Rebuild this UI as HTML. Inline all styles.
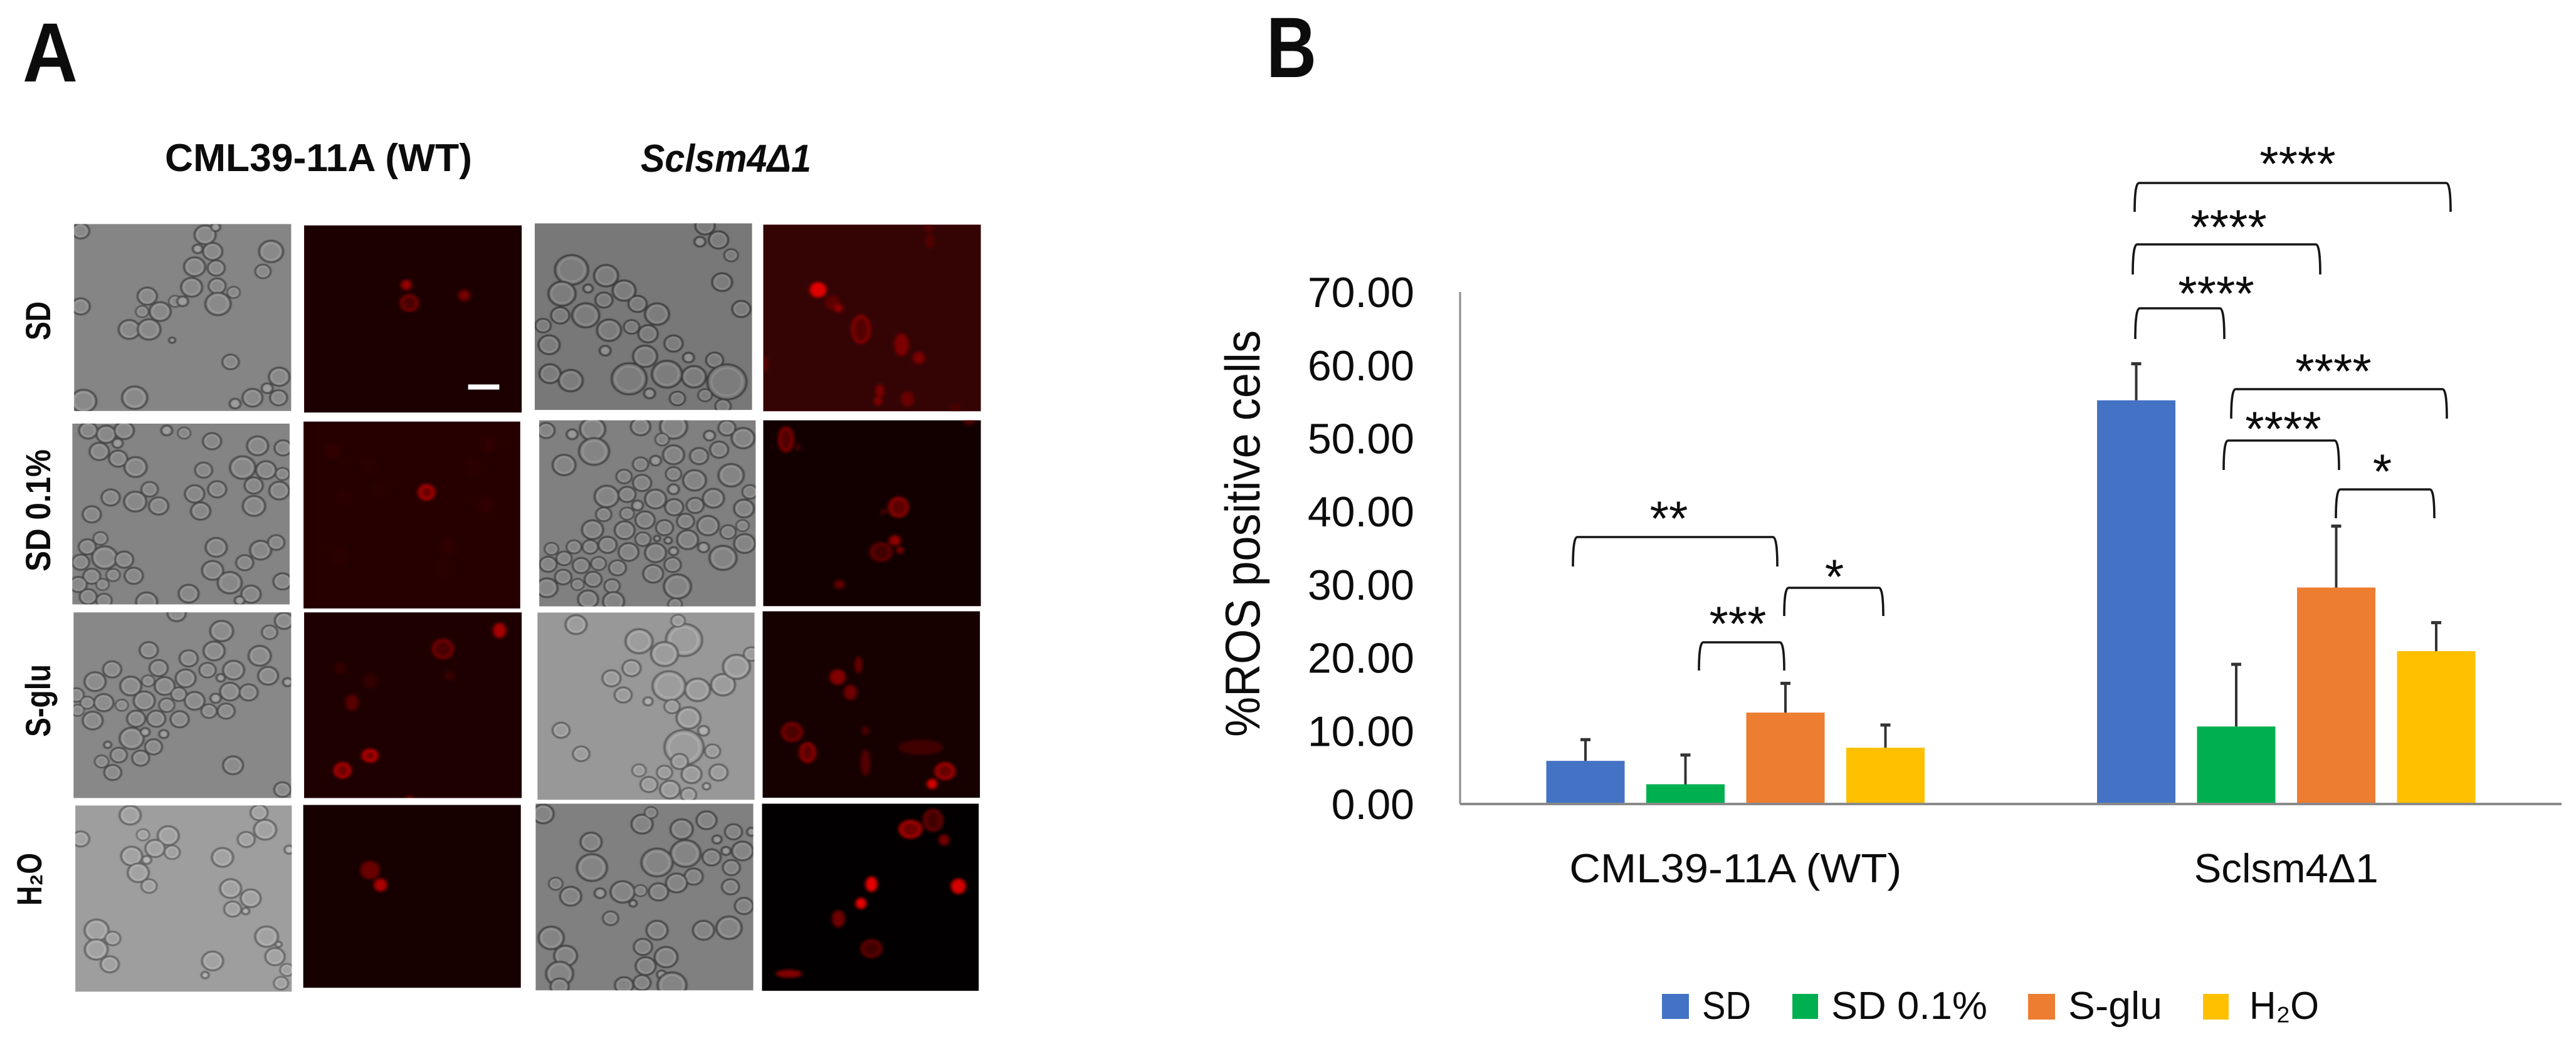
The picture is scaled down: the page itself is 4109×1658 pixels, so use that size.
<!DOCTYPE html>
<html lang="en">
<head>
<meta charset="utf-8">
<title>ROS positive cells figure</title>
<style>
html,body{margin:0;padding:0;background:#fff;}
svg{display:block;}
text{font-family:"Liberation Sans","DejaVu Sans",sans-serif;fill:#0c0c0c;}
</style>
</head>
<body>
<svg id="fig" xmlns="http://www.w3.org/2000/svg" width="4109" height="1658" viewBox="0 0 4109 1658">
  <defs>
    <filter id="soft" x="-5%" y="-5%" width="110%" height="110%"><feGaussianBlur stdDeviation="2.2"></feGaussianBlur></filter>
    <filter id="softRed" x="-5%" y="-5%" width="110%" height="110%"><feGaussianBlur stdDeviation="6"></feGaussianBlur></filter>
  </defs>
  <rect x="0" y="0" width="4109" height="1658" fill="#ffffff"></rect>

  <text x="36" y="130" font-size="134" font-weight="700" textLength="88" lengthAdjust="spacingAndGlyphs">A</text>
  <text x="2020" y="123" font-size="137" font-weight="700" textLength="80" lengthAdjust="spacingAndGlyphs">B</text>

  <text x="263" y="273" font-size="62" font-weight="700" textLength="490" lengthAdjust="spacingAndGlyphs">CML39-11A (WT)</text>
  <text x="1022" y="274" font-size="62" font-weight="700" font-style="italic" textLength="272" lengthAdjust="spacingAndGlyphs">Sclsm4Δ1</text>

  <text transform="translate(80,543) rotate(-90)" font-size="56" font-weight="700" textLength="62" lengthAdjust="spacingAndGlyphs">SD</text>
  <text transform="translate(80,912) rotate(-90)" font-size="56" font-weight="700" textLength="195" lengthAdjust="spacingAndGlyphs">SD 0.1%</text>
  <text transform="translate(80,1176) rotate(-90)" font-size="56" font-weight="700" textLength="116" lengthAdjust="spacingAndGlyphs">S-glu</text>
  <text transform="translate(66,1445) rotate(-90)" font-size="56" font-weight="700" textLength="84" lengthAdjust="spacingAndGlyphs">H₂O</text>

  <g id="micrographs"></g>

  <g id="chart">
    <text transform="translate(2009,1176) rotate(-90)" font-size="78" textLength="649" lengthAdjust="spacingAndGlyphs">%ROS positive cells</text>
    <g id="yTicks"></g>
    <g id="bars"></g>
    <g id="errs"></g>
    <line x1="2329" y1="466" x2="2329" y2="1283" stroke="#8a8a8a" stroke-width="3"></line>
    <line x1="2329" y1="1283" x2="4086" y2="1283" stroke="#8a8a8a" stroke-width="4"></line>
    <g id="xLabels"></g>

    <g fill="none" stroke="#151515" stroke-width="3.6">
      <path d="M2509 904 Q2509 857 2516 857 H2828 Q2835 857 2835 904"></path>
      <path d="M2710 1070 Q2710 1025 2717 1025 H2839 Q2846 1025 2846 1070"></path>
      <path d="M2846 983 Q2846 938 2853 938 H2997 Q3004 938 3004 983"></path>
      <path d="M3405 338 Q3405 292 3412 292 H3902 Q3909 292 3909 338"></path>
      <path d="M3402 438 Q3402 390 3409 390 H3694 Q3701 390 3701 438"></path>
      <path d="M3406 541 Q3406 492 3413 492 H3541 Q3548 492 3548 541"></path>
      <path d="M3559 668 Q3559 621 3566 621 H3896 Q3903 621 3903 668"></path>
      <path d="M3547 750 Q3547 703 3554 703 H3724 Q3731 703 3731 750"></path>
      <path d="M3726 827 Q3726 781 3733 781 H3876 Q3883 781 3883 827"></path>
    </g>
    <g font-size="78" text-anchor="middle">
      <text x="2662" y="854">**</text>
      <text x="2772" y="1022">***</text>
      <text x="2926" y="947">*</text>
      <text x="3665" y="288">****</text>
      <text x="3555" y="389">****</text>
      <text x="3535" y="495">****</text>
      <text x="3722" y="619">****</text>
      <text x="3642" y="711">****</text>
      <text x="3800" y="779">*</text>
    </g>

    <g font-size="62">
      <rect x="2651" y="1586" width="43" height="40" fill="#4472C4"></rect>
      <text x="2715" y="1626" textLength="78" lengthAdjust="spacingAndGlyphs">SD</text>
      <rect x="2859" y="1586" width="41" height="40" fill="#00B050"></rect>
      <text x="2921" y="1626" textLength="249" lengthAdjust="spacingAndGlyphs">SD 0.1%</text>
      <rect x="3235" y="1586" width="43" height="41" fill="#ED7D31"></rect>
      <text x="3299" y="1626" textLength="150" lengthAdjust="spacingAndGlyphs">S-glu</text>
      <rect x="3514" y="1586" width="41" height="41" fill="#FFC000"></rect>
      <text x="3588" y="1626" textLength="111" lengthAdjust="spacingAndGlyphs">H₂O</text>
    </g>
  </g>
</svg>

<script>
// ---------- chart data ----------
const categories = ['CML39-11A (WT)', 'Sclsm4Δ1'];
const seriesNames = ['SD', 'SD 0.1%', 'S-glu', 'H2O'];
const sdValues = [5.9, 55.2];
const sd01Values = [2.7, 10.6];
const sGluValues = [12.5, 29.6];
const h2oValues = [7.7, 20.9];
const sdErrors = [2.9, 5.0];
const sd01Errors = [4.0, 8.5];
const sGluErrors = [4.0, 8.4];
const h2oErrors = [3.1, 3.9];
const yTickLabels = ['0.00', '10.00', '20.00', '30.00', '40.00', '50.00', '60.00', '70.00'];

const seriesValues = [sdValues, sd01Values, sGluValues, h2oValues];
const seriesErrors = [sdErrors, sd01Errors, sGluErrors, h2oErrors];
const barColors = ['#4472C4', '#00B050', '#ED7D31', '#FFC000'];

const NS = 'http://www.w3.org/2000/svg';
function mk(parent, tag, attrs) {
  const el = document.createElementNS(NS, tag);
  for (const k in attrs) el.setAttribute(k, attrs[k]);
  parent.appendChild(el);
  return el;
}

// ---------- axis functions ----------
const plotLeft = 2329, plotRight = 4086, plotBase = 1283, unitPx = 11.67;
function yScale(v) { return plotBase - v * unitPx; }
function groupCenter(c) {
  const band = (plotRight - plotLeft) / categories.length;
  return plotLeft + band * (c + 0.5);
}
function barCenter(c, s) { return groupCenter(c) + (s - (seriesNames.length - 1) / 2) * 159.5; }

const yTicksG = document.getElementById('yTicks');
yTickLabels.forEach(function (label) {
  const t = mk(yTicksG, 'text', { x: 2256, y: yScale(parseFloat(label)) + 24, 'font-size': 68, 'text-anchor': 'end' });
  
  
  t.textContent = label;
});

const barsG = document.getElementById('bars');
const errsG = document.getElementById('errs');
seriesNames.forEach(function (name, s) {
  categories.forEach(function (cat, c) {
    const v = seriesValues[s][c], e = seriesErrors[s][c];
    const cx = barCenter(c, s), w = 125;
    const bar = mk(barsG, 'rect', { x: cx - w / 2, y: yScale(v), width: w, height: plotBase - yScale(v), fill: barColors[s] });
    
    
    const stem = mk(errsG, 'line', { x1: cx, x2: cx, y1: yScale(v), y2: yScale(v + e), stroke: '#333', 'stroke-width': 4 });
    
    
    const cap = mk(errsG, 'line', { x1: cx - 8, x2: cx + 8, y1: yScale(v + e), y2: yScale(v + e), stroke: '#333', 'stroke-width': 5 });
    
    
  });
});

const xLabelsG = document.getElementById('xLabels');
const xLabelWidths = [530, 294];
categories.forEach(function (cat, c) {
  const t = mk(xLabelsG, 'text', { x: groupCenter(c), y: 1408, 'font-size': 65, 'text-anchor': 'middle', textLength: xLabelWidths[c], lengthAdjust: 'spacingAndGlyphs' });
  
  
  t.textContent = cat;
});

// ---------- micrograph panels (picture texture, not chart data) ----------
const quadrants = [
 { ox: 100, oy: 340, panels: [
  { n: 'wt-sd-brightfield', r: [38,43,762,774], g: 133, c: [[60,70,28],[475,85,35],[450,140,16],[500,150,32],[440,210,35],[512,215,28],[695,150,40],[668,228,25],[430,290,35],[515,285,28],[282,325,32],[375,345,20],[400,345,18],[325,385,35],[265,385,20],[518,355,42],[60,365,30],[222,455,35],[288,455,38],[365,497,10],[560,582,27],[722,640,34],[682,685,18],[633,722,33],[720,722,28],[575,745,18],[240,722,42],[70,735,42],[510,55,15],[570,310,20]] },
  { n: 'wt-sd-fluorescence', r: [805,48,1531,780], bg: '#1c0000', red: [[1146,281,18,20,150,0],[1156,352,27,30,135,1],[1339,322,20,22,115,0]] },
  { n: 'wt-sd01-brightfield', r: [32,823,757,1530], g: 132, c: [[85,850,30],[145,865,32],[205,850,32],[183,900,17],[122,932,32],[185,960,30],[243,993,37],[347,850,18],[405,860,20],[498,892,30],[650,910,35],[735,918,28],[600,995,42],[678,1005,33],[470,1005,28],[733,1020,22],[637,1065,30],[722,1085,33],[290,1080,27],[515,1080,30],[440,1098,32],[160,1112,30],[242,1128,37],[320,1145,32],[97,1178,30],[460,1165,32],[638,1145,37],[126,1272,23],[82,1305,28],[512,1307,35],[140,1347,42],[205,1355,30],[60,1365,28],[660,1318,35],[712,1288,27],[607,1367,28],[500,1397,35],[97,1420,28],[168,1415,22],[237,1418,30],[733,1440,30],[557,1445,40],[52,1452,28],[133,1452,20],[420,1488,33],[628,1490,32],[85,1500,28],[280,1520,35],[138,1515,25],[590,1515,16]] },
  { n: 'wt-sd01-fluorescence', r: [803,815,1526,1546], bg: '#260000', red: [[900,930,28,34,46,0],[1020,985,28,34,44,0],[1420,905,28,34,46,0],[1370,990,32,40,44,0],[1060,1080,28,34,44,0],[940,1110,32,34,42,0],[1410,1140,30,36,46,0],[1285,1300,28,36,46,0],[1275,1390,24,40,42,0],[920,1340,34,36,42,0],[1213,1092,24,27,195,1]] }
 ]},
 { ox: 840, oy: 340, panels: [
  { n: 'mutant-sd-brightfield', r: [27,40,752,770], g: 120, c: [[150,222,55],[265,245,40],[118,315,45],[205,295,15],[325,303,38],[258,340,28],[370,355,30],[197,400,45],[112,400,30],[55,440,25],[435,395,40],[275,458,40],[350,445,25],[405,472,32],[490,510,30],[75,515,35],[262,538,18],[395,560,40],[540,565,18],[627,575,28],[78,628,35],[147,655,40],[342,648,58],[468,630,50],[558,640,40],[668,660,65],[410,705,18],[503,725,25],[595,712,22],[655,755,25],[595,50,32],[640,105,32],[578,112,18],[682,165,22],[652,270,33],[716,375,30]] },
  { n: 'mutant-sd-fluorescence', r: [789,45,1515,775], bg: '#340404', red: [[972,300,28,30,225,0],[1020,350,25,28,95,0],[1040,372,15,16,140,0],[1115,455,28,52,150,1],[1250,515,24,45,125,0],[1308,567,20,24,125,0],[1178,695,14,26,125,0],[1172,735,14,18,125,0],[1270,727,22,30,105,0],[1345,110,14,28,85,0],[1340,60,14,16,85,0],[797,590,7,30,100,0],[1430,760,18,14,75,0]] },
  { n: 'mutant-sd01-brightfield', r: [42,810,764,1538], g: 128, c: [[65,850,28],[152,865,18],[220,845,42],[225,932,50],[125,985,38],[380,835,32],[490,835,45],[452,885,22],[610,870,18],[668,840,28],[722,880,38],[490,945,35],[575,950,30],[642,925,30],[380,982,25],[430,968,18],[325,1030,25],[490,1020,25],[385,1055,30],[560,1045,38],[682,1025,42],[490,1080,18],[267,1108,40],[335,1100,28],[430,1118,35],[623,1115,35],[745,1090,25],[370,1143,18],[492,1150,30],[562,1143,28],[725,1155,33],[257,1178,25],[335,1175,22],[395,1200,32],[530,1205,28],[220,1238,35],[327,1240,33],[460,1230,28],[605,1222,36],[672,1247,25],[720,1222,20],[388,1275,25],[435,1272,10],[270,1297,30],[212,1305,25],[158,1305,24],[83,1313,22],[340,1325,33],[472,1280,12],[537,1277,35],[430,1328,35],[490,1322,15],[590,1307,18],[727,1292,35],[125,1350,25],[72,1373,28],[182,1378,28],[240,1370,24],[303,1387,28],[655,1348,45],[487,1375,27],[122,1423,27],[222,1432,28],[422,1410,33],[170,1452,20],[285,1458,25],[68,1465,35],[503,1460,45],[205,1510,33],[290,1518,35],[495,1530,22]] },
  { n: 'mutant-sd01-fluorescence', r: [789,810,1515,1537], bg: '#120000', red: [[865,885,22,46,145,1],[905,915,8,14,75,0],[1240,1150,30,36,165,1],[1190,1168,8,9,100,0],[1228,1280,20,20,145,0],[1245,1318,12,14,125,0],[1182,1325,33,33,115,1],[1043,1452,18,18,95,0],[1475,815,20,14,75,0]] }
 ]},
 { ox: 100, oy: 960, panels: [
  { n: 'wt-sglu-brightfield', r: [36,42,762,768], g: 136, c: [[380,45,30],[530,115,38],[738,75,30],[690,120,25],[287,190,30],[505,193,35],[165,265,30],[420,222,30],[320,260,30],[657,212,37],[108,313,35],[227,330,35],[285,310,20],[340,330,33],[410,300,33],[483,268,27],[570,268,35],[527,298,14],[685,290,33],[750,315,15],[45,365,25],[82,395,22],[137,395,32],[197,405,20],[272,388,35],[347,405,25],[387,362,25],[440,388,33],[510,378,17],[558,352,33],[620,355,30],[245,458,30],[312,458,30],[390,460,30],[488,428,25],[545,428,28],[100,465,33],[50,425,20],[230,535,40],[337,518,15],[275,510,15],[303,568,28],[150,560,12],[187,600,27],[130,625,22],[260,612,28],[167,668,28],[568,640,33],[733,735,27]] },
  { n: 'wt-sglu-fluorescence', r: [805,42,1531,768], bg: '#1e0000', red: [[1268,185,32,35,135,1],[1457,113,22,30,165,0],[965,395,22,32,88,0],[1025,602,23,22,215,1],[933,660,25,27,200,1],[1025,310,25,30,50,0],[925,262,20,24,50,0],[1290,290,18,20,52,0],[1157,768,10,8,150,0]] },
  { n: 'wt-h2o-brightfield', r: [42,797,764,1525], g: 158, c: [[225,835,35],[60,928,28],[268,912,20],[352,915,35],[308,965,32],[365,980,25],[230,995,35],[280,1010,15],[252,1060,35],[288,1112,25],[612,930,28],[675,892,37],[655,825,28],[533,1000,35],[560,1122,35],[627,1160,33],[567,1202,28],[610,1210,12],[113,1285,40],[167,1317,25],[112,1360,38],[157,1418,30],[500,1405,35],[475,1460,12],[680,1310,38],[720,1340,10],[708,1388,32],[748,1440,22],[728,1492,23],[755,970,15]] },
  { n: 'wt-h2o-fluorescence', r: [802,795,1528,1510], bg: '#160000', red: [[1025,1050,33,36,105,0],[1060,1108,22,26,170,0]] }
 ]},
 { ox: 840, oy: 960, panels: [
  { n: 'mutant-sglu-brightfield', r: [36,43,760,775], g: 152, c: [[165,90,35],[375,155,45],[525,150,60],[460,205,45],[505,75,22],[350,260,30],[283,300,30],[322,365,28],[475,330,55],[570,345,42],[655,325,40],[700,255,45],[750,205,25],[405,390,15],[485,410,25],[540,455,40],[590,505,18],[115,503,28],[182,595,27],[525,570,65],[620,585,25],[375,660,22],[460,668,25],[550,675,33],[510,625,28],[640,668,30],[600,722,12],[408,715,28],[478,735,33],[540,755,25]] },
  { n: 'mutant-sglu-fluorescence', r: [787,38,1512,767], bg: '#160000', red: [[1037,295,27,30,130,0],[1107,248,12,34,105,0],[1080,355,22,30,110,0],[885,510,32,34,140,1],[937,590,24,36,165,1],[1130,505,12,18,75,0],[1130,630,16,52,85,0],[1315,570,75,30,65,0],[1395,663,30,30,190,1],[1352,713,17,20,215,0]] },
  { n: 'mutant-h2o-brightfield', r: [30,790,756,1520], g: 128, c: [[55,830,35],[385,870,35],[415,825,20],[517,890,37],[600,855,33],[635,930,15],[690,900,28],[750,900,15],[215,940,35],[530,985,50],[435,1020,52],[218,1040,50],[617,1000,30],[665,975,15],[720,975,35],[683,1040,28],[97,1103,22],[147,1152,35],[557,1075,30],[680,1115,28],[245,1140,18],[320,1135,40],[380,1130,20],[440,1135,32],[500,1100,35],[725,1190,30],[355,1180,12],[280,1238,25],[435,1285,35],[590,1285,35],[675,1275,42],[82,1315,42],[130,1385,38],[388,1350,30],[465,1390,38],[397,1425,33],[450,1458,15],[110,1455,45],[325,1500,30],[385,1490,28],[485,1500,48],[110,1505,30]] },
  { n: 'mutant-h2o-fluorescence', r: [785,790,1508,1522], bg: '#020000', red: [[1280,890,35,32,200,1],[1355,855,30,40,120,1],[1392,932,18,22,115,0],[1150,1105,20,30,230,0],[1115,1180,18,22,230,0],[1040,1240,22,34,110,0],[1150,1357,32,32,115,1],[1440,1113,25,30,215,0],[875,1455,44,16,130,0]] }
 ]}
];

function grey(v) { v = Math.max(0, Math.min(255, Math.round(v))); return 'rgb(' + v + ',' + v + ',' + v + ')'; }

const micro = document.getElementById('micrographs');
quadrants.forEach(function (q, qi) {
  const qg = mk(micro, 'g', { transform: 'translate(' + q.ox + ',' + q.oy + ') scale(' + (750 / 1568) + ',' + (640 / 1568) + ')' });
  
  
  q.panels.forEach(function (p, pi) {
    const id = 'clip' + qi + '_' + pi;
    const cp = mk(micro.ownerSVGElement.querySelector('defs'), 'clipPath', { id: id });
    mk(cp, 'rect', { x: p.r[0], y: p.r[1], width: p.r[2] - p.r[0], height: p.r[3] - p.r[1] });
    const pg = mk(qg, 'g', { 'clip-path': 'url(#' + id + ')' });
    
    
    const base = mk(pg, 'rect', { x: p.r[0], y: p.r[1], width: p.r[2] - p.r[0], height: p.r[3] - p.r[1], fill: p.bg || grey(p.g) });
    
    
    if (p.c) {
      const cg = mk(pg, 'g', { filter: 'url(#soft)' });
      p.c.forEach(function (k) {
        const r = k[2], small = r <= 18;
        const rim = mk(cg, 'ellipse', { cx: k[0], cy: k[1], rx: r, ry: r * 1.05, fill: grey(p.g + (small ? 24 : 4)), stroke: grey(p.g - 62), 'stroke-width': 7 });
        
        
        if (!small) {
          const glow = mk(cg, 'ellipse', { cx: k[0], cy: k[1], rx: r * 0.78, ry: r * 0.82, fill: 'none', stroke: grey(p.g + 24), 'stroke-width': 5 });
          
          
        }
      });
    }
    if (p.red) {
      const rg = mk(pg, 'g', { filter: 'url(#softRed)' });
      p.red.forEach(function (k) {
        const c = 'rgb(' + k[4] + ',0,0)';
        const dim = 'rgb(' + Math.round(k[4] * 0.55) + ',0,0)';
        const spot = mk(rg, 'ellipse', { cx: k[0], cy: k[1], rx: k[2], ry: k[3], fill: k[5] ? dim : c, stroke: k[5] ? c : 'none', 'stroke-width': k[5] ? 8 : 0 });
        
        
      });
    }
    if (p.n === 'wt-sd-fluorescence') {
      const sb = mk(pg, 'rect', { x: 1352, y: 670, width: 104, height: 20, fill: '#ffffff' });
      
      
    }
  });
});
</script>
</body>
</html>
